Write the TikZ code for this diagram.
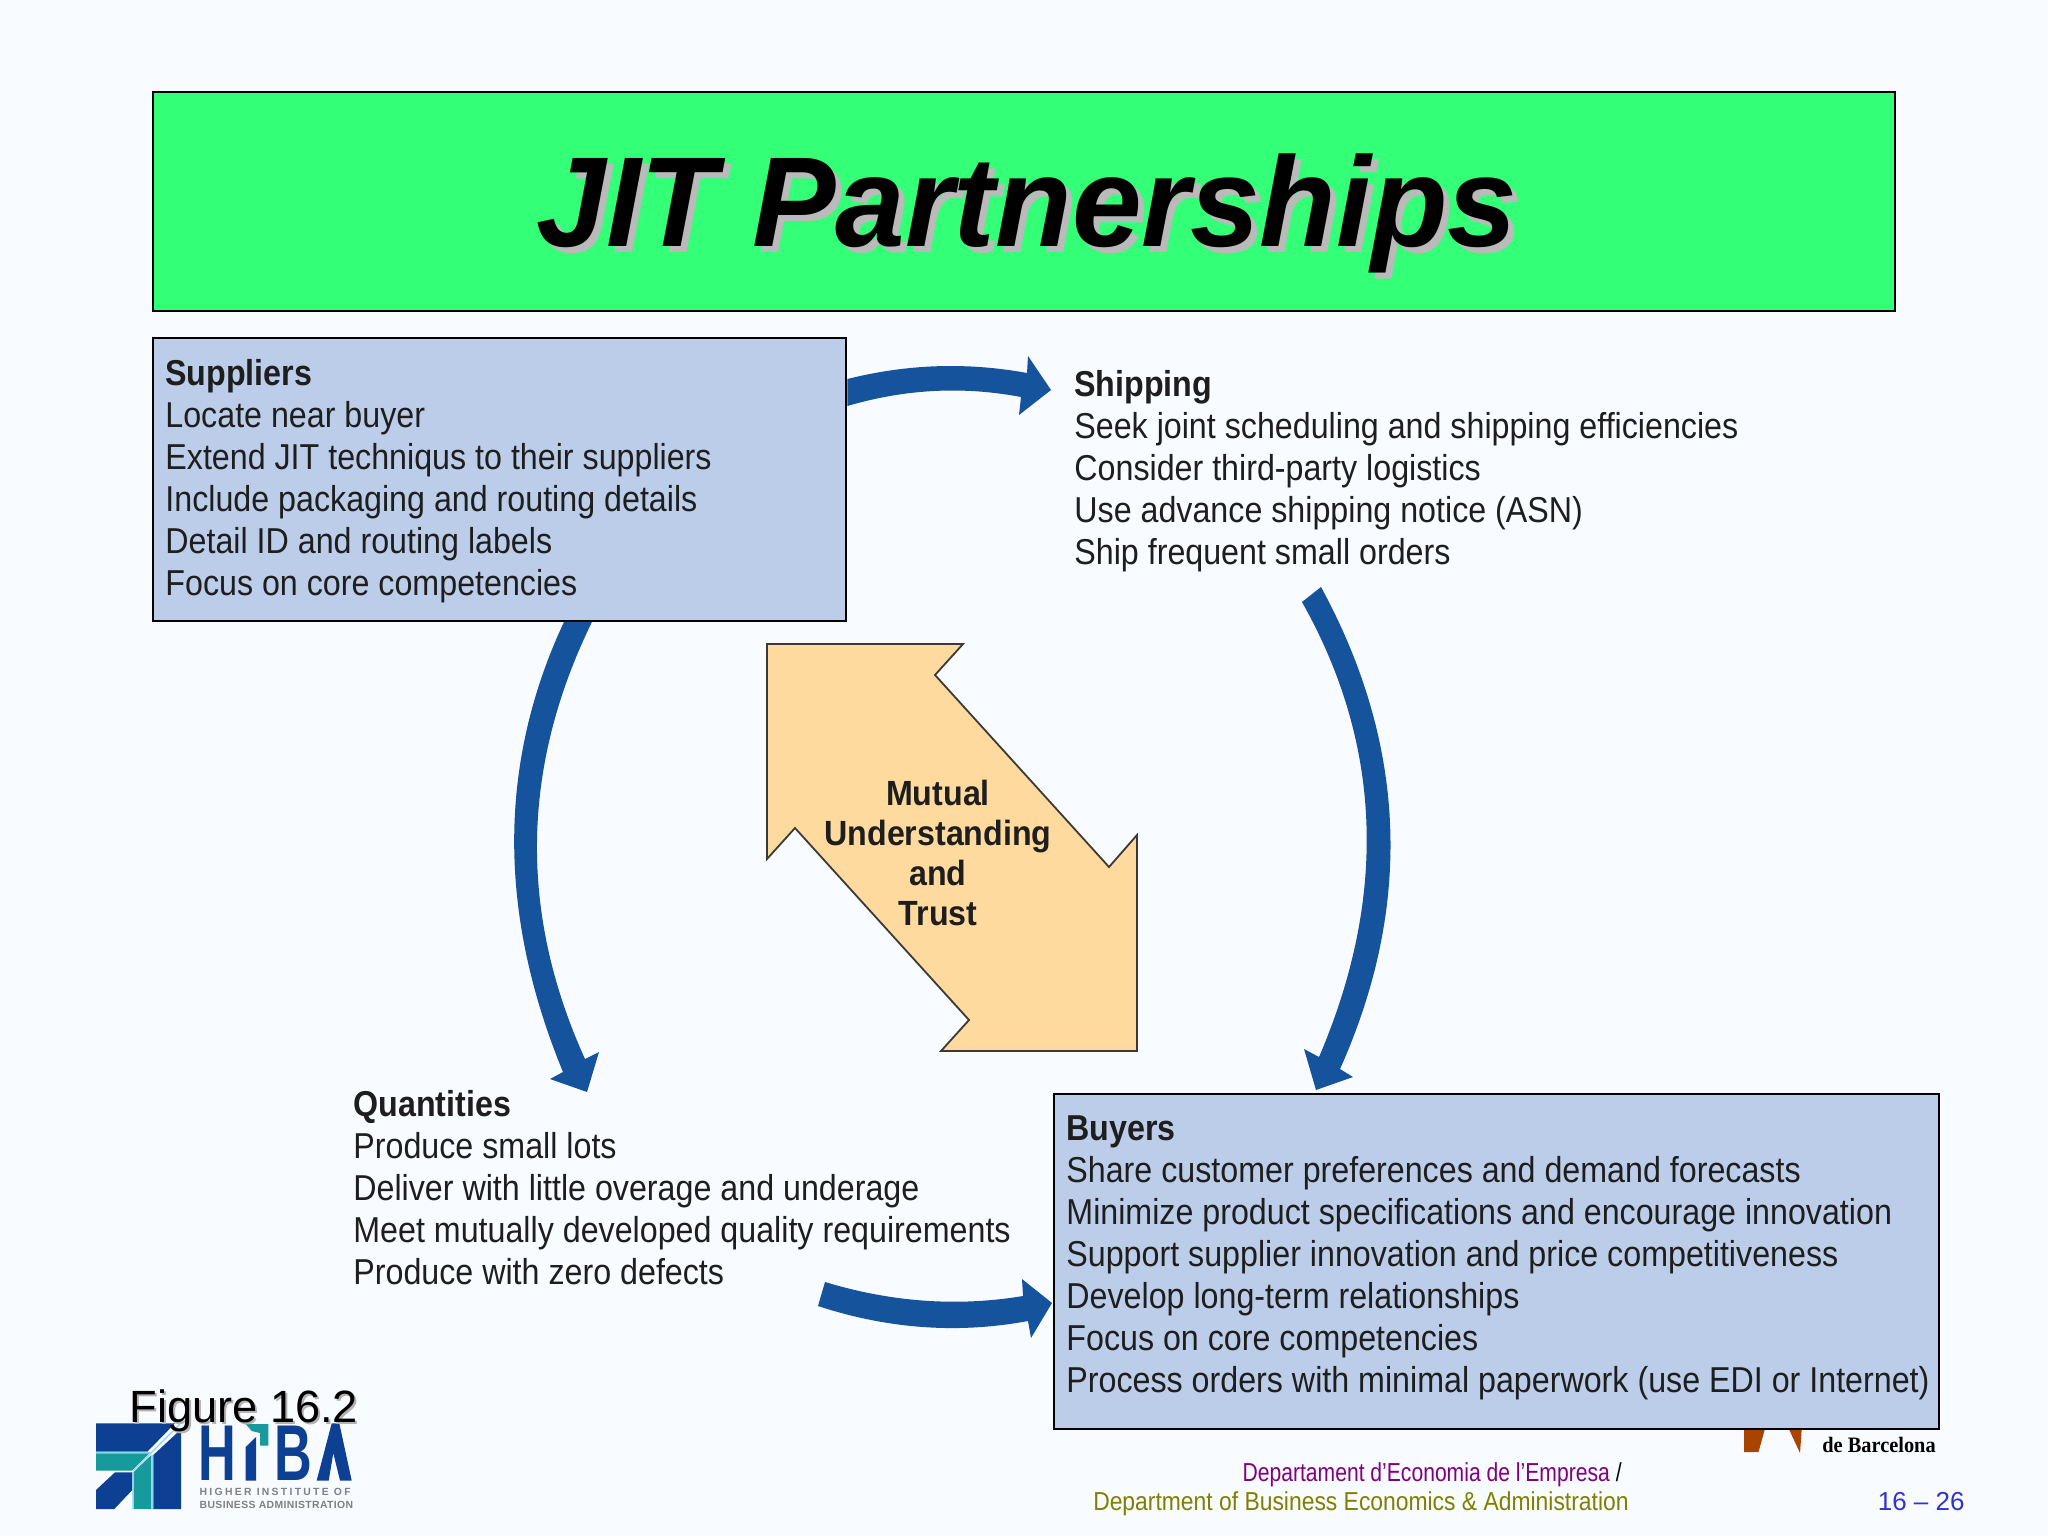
\documentclass[tikz,border=0pt]{standalone}
\usepackage{fontspec}
\setmainfont{Liberation Sans}
\newfontfamily\bodyfont[FakeStretch=0.895]{Liberation Sans}
\newfontfamily\titlefont[FakeStretch=0.978]{Liberation Sans}
\newfontfamily\centerfont[FakeStretch=0.92]{Liberation Sans}
\newfontfamily\foota[FakeStretch=0.812]{Liberation Sans}
\newfontfamily\footb[FakeStretch=0.88]{Liberation Sans}
\newfontfamily\logoserif[FakeStretch=0.925]{Liberation Serif}
\newfontfamily\logowide[LetterSpace=22]{Liberation Sans}
\newfontfamily\logotight[LetterSpace=3.7]{Liberation Sans}
\newfontfamily\logocap[FakeStretch=0.66]{Liberation Sans}
\definecolor{pagebg}{HTML}{F8FBFF}
\definecolor{titlegreen}{HTML}{33FF77}
\definecolor{boxblue}{HTML}{BBCDE9}
\definecolor{arrowblue}{HTML}{15539C}
\definecolor{sand}{HTML}{FFDA9E}
\definecolor{sandline}{HTML}{3C3A36}
\definecolor{ink}{HTML}{1E1E1E}
\definecolor{navy}{HTML}{0D3F92}
\definecolor{teal2}{HTML}{169A9C}
\definecolor{logoline}{HTML}{8FD3F0}
\definecolor{rust}{HTML}{A84300}
\tikzset{
  x=0.5pt,y=-0.5pt,
  boxed/.style={draw=black,line width=1.2pt,anchor=north west,inner sep=0pt},
  block/.style={fill=arrowblue,draw=none},
  body/.style={anchor=north west,inner sep=0pt,align=left,text=ink,font=\bodyfont\fontsize{18}{21.05}\selectfont},
  central/.style={anchor=center,inner sep=0pt,align=center,text=ink,font=\centerfont\fontsize{17.5}{20}\selectfont\bfseries},
  foot/.style={anchor=base east,inner sep=0pt},
  titletext/.style={anchor=base,inner sep=0pt,font=\titlefont\fontsize{64}{70}\selectfont\bfseries\itshape},
  figtext/.style={anchor=base west,inner sep=0pt,font=\fontsize{22.6}{26}\selectfont},
  logosmall/.style={anchor=base west,inner sep=0pt,text=black!50},
}
\begin{document}
\begin{tikzpicture}
\useasboundingbox (0,0) rectangle (2048,1536);
\fill[pagebg] (0,0) rectangle (2048,1536);

% title
\node[boxed,fill=titlegreen,minimum width=871pt,minimum height=109.5pt] (title) at (152,91) {};
\node[titletext,text=black!27] (titleshadow) at (1033,252) {JIT Partnerships};
\node[titletext,text=black] (titletxt) at (1027,246) {JIT Partnerships};

% Barcelona logo remnant (under the Buyers box)
\fill[rust] (1744,1425) -- (1766,1425) -- (1758.5,1452) -- (1744,1452) -- cycle;
\fill[rust] (1787,1425) -- (1802,1425) -- (1800,1453) -- cycle;
\node[anchor=base west,inner sep=0pt,font=\logoserif\fontsize{11}{12}\selectfont\bfseries] (ub) at (1822,1452) {de Barcelona};

% boxes
\node[boxed,fill=boxblue,minimum width=346.5pt,minimum height=141.5pt] (sup) at (152,336.5) {};
\node[boxed,fill=boxblue,minimum width=442.5pt,minimum height=167.5pt] (buy) at (1052.5,1092.5) {};

% texts
\node[body] (suptxt) at (165,359) {\textbf{Suppliers}\\Locate near buyer\\Extend JIT techniqus to their suppliers\\Include packaging and routing details\\Detail ID and routing labels\\Focus on core competencies};
\node[body] (ship) at (1074,370) {\textbf{Shipping}\\Seek joint scheduling and shipping efficiencies\\Consider third-party logistics\\Use advance shipping notice (ASN)\\Ship frequent small orders};
\node[body] (qty) at (353,1090) {\textbf{Quantities}\\Produce small lots\\Deliver with little overage and underage\\Meet mutually developed quality requirements\\Produce with zero defects};
\node[body] (buytxt) at (1066,1115) {\textbf{Buyers}\\Share customer preferences and demand forecasts\\Minimize product specifications and encourage innovation\\Support supplier innovation and price competitiveness\\Develop long-term relationships\\Focus on core competencies\\Process orders with minimal paperwork (use EDI or Internet)};

% mutual arrow
\draw[fill=sand,draw=sandline,line width=0.9pt,line join=miter]
  (767,644) -- (963,644) -- (935,675) -- (1109,867) -- (1137,835) -- (1137,1051)
  -- (941,1051) -- (969,1020) -- (795,828) -- (767,859) -- cycle;
\node[central] (mutual) at (938,853) {Mutual\\Understanding\\and\\Trust};

% block arrows
\coordinate (tipA) at (1051,390);
\coordinate (tipB) at (1316,1090);
\coordinate (tipC) at (1052,1303);
\coordinate (tipD) at (587,1092);
\fill[block] (sup.east |- 0,379) .. controls (907,364) and (967,362) .. (1027,373) -- (1028,356) -- (tipA) -- (1019,415) -- (1021,397) .. controls (963,386) and (905,389) .. (sup.east |- 0,406) -- cycle;
\fill[block] (sup.south -| 564,0) .. controls (498,763) and (497.5,913) .. (563,1072) -- (550,1079) -- (tipD) -- (599,1052) -- (585,1059) .. controls (518.7,912.7) and (521,767) .. (sup.south -| 592,0) -- cycle;
\fill[block] (1321,587) .. controls (1407,745) and (1413,906) .. (1340,1069) -- (1353,1077) -- (tipB) -- (1304,1049) -- (1319,1057) .. controls (1388,896) and (1382,744) .. (1302,602) -- cycle;
\fill[block] (825,1282) .. controls (891,1302) and (957,1307) .. (1023,1296) -- (1022,1279) -- (tipC) -- (1031,1338) -- (1028,1321) .. controls (958,1334) and (888,1329) .. (818,1306) -- cycle;

% footer
\node[foot,font=\foota\fontsize{13}{15}\selectfont] (dep1) at (1622,1481) {\color[HTML]{800080}Departament d’Economia de l’Empresa \color{black}/};
\node[foot,font=\footb\fontsize{13}{15}\selectfont,text={rgb,255:red,128;green,128;blue,0}] (dep2) at (1629,1510) {Department of Business Economics \& Administration};
\node[foot,font=\fontsize{13}{15}\selectfont,text={rgb,255:red,51;green,51;blue,204}] (page) at (1965,1510) {16 – 26};

% HiBA logo
\fill[navy] (96,1423.3) -- (175,1423.3) -- (147.3,1451.7) -- (96,1451.7) -- cycle;
\fill[navy] (181,1429.3) -- (153.3,1455) -- (153.3,1509) -- (181,1509) -- cycle;
\fill[teal2] (96,1453.3) -- (149.3,1453.3) -- (132,1470.7) -- (96,1470.7) -- cycle;
\fill[teal2] (133.7,1472) -- (151.3,1455) -- (151.3,1509) -- (133.7,1509) -- cycle;
\fill[navy] (96,1490) -- (115,1472.3) -- (132.3,1472.3) -- (132.3,1490) -- (114.3,1509) -- (96,1509) -- cycle;
\draw[logoline,line width=0.6pt] (180,1424) -- (133,1471) (96,1452.5) -- (150,1452.5) (152.3,1455) -- (152.3,1509) (133,1472) -- (133,1509);
\node[anchor=base west,inner sep=0pt,text=navy,font=\logocap\fontsize{39.6}{40}\selectfont\bfseries] (logoH) at (198,1480.5) {H};
\fill[navy] (245.7,1447) -- (256,1437) -- (256,1480.5) -- (245.7,1480.5) -- cycle;
\fill[teal2] (245.7,1424) -- (268.3,1424) -- (268.3,1445.7) -- (260,1445.7) -- (260,1433) -- (251.7,1431) -- cycle;
\node[anchor=base west,inner sep=0pt,text=navy,font=\logocap\fontsize{39.6}{40}\selectfont\bfseries] (logoB) at (274,1480.5) {B};
\fill[navy] (316.7,1480.5) -- (331.7,1423.3) -- (339.3,1423.3) -- (351.7,1480.5) -- (340,1480.5) -- (333.3,1453) -- (328.7,1480.5) -- cycle;
\node[logosmall,font=\logowide\fontsize{5.2}{6}\selectfont\bfseries] (logoa) at (199.3,1495) {HIGHER INSTITUTE OF};
\node[logosmall,font=\logotight\fontsize{5.2}{6}\selectfont\bfseries] (logob) at (199.3,1508) {BUSINESS ADMINISTRATION};

% figure label
\node[figtext,text=black!30] (figs) at (131,1424) {Figure 16.2};
\node[figtext,text=black] (fig) at (129,1422) {Figure 16.2};
\end{tikzpicture}
\end{document}
